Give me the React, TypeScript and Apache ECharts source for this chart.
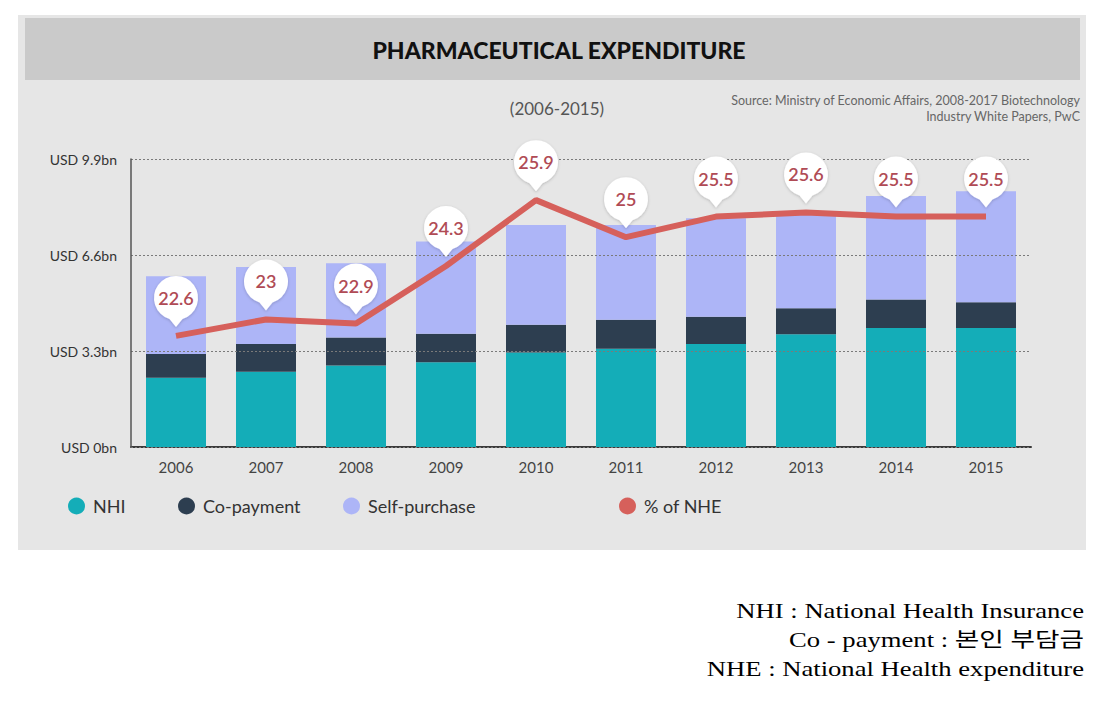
import React, { useEffect, useRef } from "react";
import * as echarts from "echarts";

const years = ["2006", "2007", "2008", "2009", "2010", "2011", "2012", "2013", "2014", "2015"];
const nhi = [2.38, 2.59, 2.8, 2.91, 3.25, 3.38, 3.54, 3.88, 4.09, 4.09];
const coPayment = [0.82, 0.95, 0.96, 0.98, 0.95, 0.99, 0.94, 0.89, 0.98, 0.89];
const selfPurchase = [2.67, 2.65, 2.56, 3.17, 3.43, 3.26, 3.38, 3.22, 3.56, 3.81];
const nhePct = [22.6, 23, 22.9, 24.3, 25.9, 25, 25.5, 25.6, 25.5, 25.5];

const titleText = "PHARMACEUTICAL EXPENDITURE";
const periodText = "(2006-2015)";
const sourceLines = [
  "Source: Ministry of Economic Affairs, 2008-2017 Biotechnology",
  "Industry White Papers, PwC",
];
const noteLines = [
  "NHI : National Health Insurance",
  "Co - payment : 본인 부담금",
  "NHE : National Health expenditure",
];

const C_NHI = "#14adb8";
const C_COPAY = "#2d3e50";
const C_SELF = "#adb5f7";
const C_LINE = "#d6605b";
const C_LABEL = "#b04b55";
const FONT = "Lato, 'Open Sans', sans-serif";

const BUBBLE = "path://M22,51 L15.5,43 A22,22 0 1 1 28.5,43 Z";

export default function App() {
  const ref = useRef<HTMLDivElement>(null);
  useEffect(() => {
    if (!ref.current) return;
    const chart = echarts.init(ref.current, null, { renderer: "svg" });
    const legendBase = (name: string, left: number) => ({
      show: true,
      left,
      top: 492,
      itemWidth: 17,
      itemHeight: 17,
      icon: "circle",
      data: [name],
      textStyle: { fontFamily: FONT, fontSize: 18, color: "#333", padding: [0, 0, 0, 3] },
    });
    chart.setOption({
      animation: false,
      backgroundColor: "#ffffff",
      grid: { left: 131, right: 87, top: 159, bottom: 259, containLabel: false },
      legend: [
        legendBase("NHI", 63),
        legendBase("Co-payment", 173),
        legendBase("Self-purchase", 338),
        legendBase("% of NHE", 614),
      ],
      xAxis: {
        type: "category",
        data: years,
        axisLine: { show: true, lineStyle: { color: "#3a3a3a", width: 2 } },
        axisTick: { show: false },
        axisLabel: { fontFamily: FONT, fontSize: 15, color: "#444", margin: 12 },
      },
      yAxis: [
        {
          type: "value",
          min: 0,
          max: 9.9,
          interval: 3.3,
          z: 3,
          axisLine: { show: true, lineStyle: { color: "#555", width: 1.5 } },
          axisTick: { show: false },
          axisLabel: {
            fontFamily: FONT,
            fontSize: 14,
            color: "#333",
            margin: 14,
            formatter: (v: number) => `USD ${+v.toFixed(1)}bn`,
          },
          splitLine: { show: true, lineStyle: { color: "#7a7a7a", type: [2, 2], width: 1 } },
        },
        {
          type: "value",
          min: 19.9,
          max: 26.9,
          show: false,
          splitLine: { show: false },
        },
      ],
      series: [
        {
          name: "NHI",
          type: "bar",
          stack: "total",
          barWidth: 60,
          data: nhi,
          itemStyle: { color: C_NHI },
        },
        {
          name: "Co-payment",
          type: "bar",
          stack: "total",
          barWidth: 60,
          data: coPayment,
          itemStyle: { color: C_COPAY },
        },
        {
          name: "Self-purchase",
          type: "bar",
          stack: "total",
          barWidth: 60,
          data: selfPurchase,
          itemStyle: { color: C_SELF },
        },
        {
          name: "% of NHE",
          type: "line",
          yAxisIndex: 1,
          z: 5,
          data: nhePct,
          showSymbol: false,
          symbol: "none",
          itemStyle: { color: C_LINE },
          lineStyle: { color: C_LINE, width: 6 },
          markPoint: {
            symbol: BUBBLE,
            symbolSize: [44, 51],
            symbolOffset: [0, -34.5],
            itemStyle: {
              color: "#ffffff",
              shadowBlur: 3,
              shadowColor: "rgba(0,0,0,0.2)",
              shadowOffsetY: 1,
            },
            label: {
              show: true,
              position: "inside",
              offset: [0, -3.5],
              formatter: "{c}",
              fontFamily: FONT,
              fontSize: 18,
              fontWeight: 600,
              color: C_LABEL,
            },
            data: nhePct.map((v, i) => ({ coord: [years[i], v], value: v })),
          },
        },
      ],
      graphic: [
        { type: "rect", z: -10, shape: { x: 18, y: 15, width: 1068, height: 535 }, style: { fill: "#e6e6e6" } },
        { type: "rect", z: -9, shape: { x: 25, y: 18, width: 1055, height: 62 }, style: { fill: "#cacaca" } },
        {
          type: "text",
          x: 559,
          y: 50,
          style: {
            text: titleText,
            fontFamily: FONT,
            fontSize: 23,
            fontWeight: 900,
            fill: "#111",
            textAlign: "center",
            textVerticalAlign: "middle",
          },
        },
        {
          type: "text",
          x: 557,
          y: 108,
          style: {
            text: periodText,
            fontFamily: FONT,
            fontSize: 17,
            fill: "#555",
            textAlign: "center",
            textVerticalAlign: "middle",
          },
        },
        ...sourceLines.map((t, i) => ({
          type: "text",
          x: 1080,
          y: 100 + i * 16,
          style: {
            text: t,
            fontFamily: FONT,
            fontSize: 12.5,
            fill: "#666",
            textAlign: "right",
            textVerticalAlign: "middle",
          },
        })),
        ...noteLines.map((t, i) => ({
          type: "text",
          x: 1084,
          y: 611 + i * 29,
          scaleX: 1.3,
          style: {
            text: t,
            fontFamily: "'Liberation Serif', 'Noto Sans CJK KR', serif",
            fontSize: 20.5,
            fill: "#000",
            textAlign: "right",
            textVerticalAlign: "middle",
          },
        })),
      ],
    });
    return () => chart.dispose();
  }, []);
  return (
    <div
      ref={ref}
      style={{ position: "fixed", left: 0, top: 0, width: 1118, height: 706, background: "#fff" }}
    />
  );
}
